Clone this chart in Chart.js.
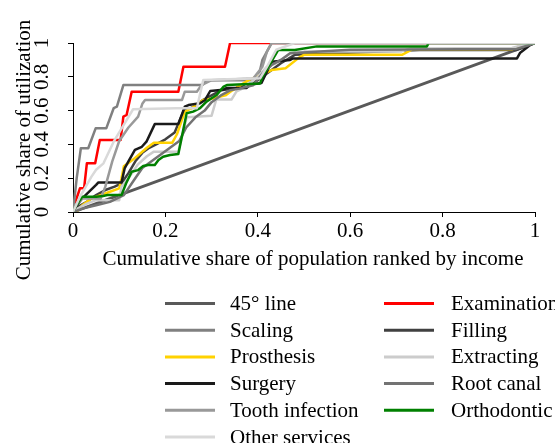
<!DOCTYPE html>
<html>
<head>
<meta charset="utf-8">
<script src="https://cdn.jsdelivr.net/npm/chart.js@4.4.1/dist/chart.umd.min.js"></script>
<style>
  html, body { margin: 0; padding: 0; background: #fff; }
  #wrap { width: 555px; height: 443px; }
</style>
</head>
<body>
<div id="wrap"><canvas id="chart" width="555" height="443"></canvas></div>
<script>
// ticks and titles
const xTicks = [0, 0.2, 0.4, 0.6, 0.8, 1];
const yTicks = [0, 0.2, 0.4, 0.6, 0.8, 1];
const xTitle = 'Cumulative share of population ranked by income';
const yTitle = 'Cumulative share of utilization';

// series, in legend order (row by row, two columns)
const labels = ['45° line', 'Examination', 'Scaling', 'Filling', 'Prosthesis', 'Extracting',
                'Surgery', 'Root canal', 'Tooth infection', 'Orthodontic', 'Other services'];
const colors = ['#595959', '#ff0000', '#808080', '#404040', '#ffd200', '#cccccc',
                '#1a1a1a', '#737373', '#999999', '#008000', '#d9d9d9'];

// [population share, utilization share]
const line45 = [[0,0],[1,1]];
const examination = [[0,0],[0.004,0.05],[0.015,0.14],[0.024,0.14],[0.03,0.288],[0.048,0.288],[0.058,0.426],
  [0.103,0.426],[0.109,0.564],[0.116,0.574],[0.127,0.712],[0.228,0.712],[0.239,0.86],[0.329,0.86],[0.34,1],[1,1]];
const scaling = [[0,0],[0.008,0.2],[0.017,0.377],[0.033,0.377],[0.049,0.495],[0.072,0.495],[0.088,0.614],
  [0.095,0.623],[0.109,0.751],[0.28,0.751],[0.29,0.78],[0.40,0.78],[0.41,0.9],[0.43,1],[1,1]];
const filling = [[0,0],[0.01,0.03],[0.03,0.06],[0.05,0.1],[0.07,0.13],[0.09,0.15],[0.105,0.17],[0.12,0.23],
  [0.135,0.3],[0.15,0.35],[0.165,0.38],[0.18,0.4],[0.2,0.43],[0.22,0.47],[0.24,0.6],[0.26,0.62],[0.28,0.66],
  [0.3,0.69],[0.32,0.72],[0.35,0.73],[0.37,0.75],[0.39,0.76],[0.41,0.8],[0.43,0.84],[0.45,0.88],[0.48,0.93],
  [0.75,0.959],[0.96,0.959],[0.985,0.985],[1,1]];
const prosthesis = [[0,0],[0.01,0.01],[0.02,0.04],[0.04,0.08],[0.06,0.1],[0.08,0.12],[0.1,0.14],[0.105,0.2],
  [0.11,0.27],[0.13,0.31],[0.16,0.38],[0.175,0.41],[0.215,0.41],[0.225,0.46],[0.242,0.594],[0.257,0.614],
  [0.271,0.643],[0.282,0.663],[0.3,0.67],[0.33,0.69],[0.345,0.72],[0.38,0.78],[0.43,0.84],[0.46,0.85],
  [0.49,0.915],[0.5,0.93],[0.712,0.93],[0.735,0.963],[0.95,0.963],[0.985,1],[1,1]];
const extracting = [[0,0],[0.01,0.02],[0.03,0.05],[0.05,0.07],[0.1,0.07],[0.105,0.15],[0.12,0.2],[0.14,0.28],
  [0.16,0.33],[0.175,0.357],[0.228,0.357],[0.246,0.56],[0.3,0.57],[0.31,0.665],[0.343,0.665],[0.354,0.714],
  [0.37,0.734],[0.4,0.8],[0.42,0.86],[0.44,0.88],[0.47,0.94],[0.5,0.949],[0.71,0.949],[0.73,0.968],
  [0.95,0.97],[0.99,1],[1,1]];
const surgery = [[0,0],[0.008,0.04],[0.02,0.08],[0.035,0.12],[0.05,0.16],[0.055,0.175],[0.105,0.175],
  [0.112,0.26],[0.12,0.3],[0.134,0.367],[0.149,0.386],[0.159,0.416],[0.177,0.52],[0.228,0.52],[0.242,0.623],
  [0.25,0.633],[0.275,0.643],[0.286,0.663],[0.297,0.716],[0.325,0.724],[0.333,0.734],[0.376,0.734],
  [0.383,0.753],[0.408,0.763],[0.43,0.889],[0.47,0.9],[0.476,0.909],[0.961,0.909],[0.968,0.943],
  [0.982,0.972],[0.99,0.99],[1,1]];
const rootCanal = [[0,0],[0.02,0.02],[0.05,0.04],[0.08,0.06],[0.11,0.1],[0.13,0.18],[0.15,0.26],[0.17,0.3],
  [0.19,0.34],[0.21,0.38],[0.23,0.42],[0.245,0.5],[0.265,0.56],[0.285,0.6],[0.3,0.65],[0.32,0.69],[0.34,0.72],
  [0.36,0.73],[0.39,0.75],[0.41,0.82],[0.43,0.87],[0.45,0.9],[0.47,0.94],[0.6,0.96],[0.96,0.965],[0.99,0.99],[1,1]];
const toothInfection = [[0,0],[0.005,0.04],[0.02,0.08],[0.06,0.08],[0.07,0.15],[0.085,0.3],[0.1,0.42],
  [0.12,0.5],[0.141,0.564],[0.15,0.64],[0.156,0.663],[0.236,0.663],[0.242,0.712],[0.268,0.712],[0.278,0.75],
  [0.3,0.78],[0.39,0.79],[0.41,0.86],[0.42,0.95],[0.43,1],[1,1]];
const orthodontic = [[0,0],[0.005,0.03],[0.012,0.06],[0.02,0.09],[0.05,0.09],[0.065,0.095],[0.075,0.1],
  [0.105,0.1],[0.115,0.17],[0.127,0.238],[0.141,0.248],[0.152,0.272],[0.163,0.278],[0.177,0.278],[0.185,0.308],
  [0.195,0.327],[0.21,0.337],[0.228,0.343],[0.246,0.584],[0.26,0.594],[0.275,0.614],[0.289,0.653],[0.3,0.673],
  [0.311,0.692],[0.326,0.742],[0.333,0.751],[0.405,0.761],[0.41,0.8],[0.444,0.958],[0.48,0.958],[0.528,0.98],
  [0.766,0.98],[0.77,1],[1,1]];
const otherServices = [[0,0],[0.015,0.09],[0.04,0.209],[0.05,0.25],[0.066,0.288],[0.088,0.416],[0.116,0.544],
  [0.13,0.608],[0.224,0.614],[0.268,0.614],[0.282,0.781],[0.405,0.791],[0.42,0.86],[0.44,0.96],[0.48,1],[1,1]];

const series = [line45, examination, scaling, filling, prosthesis, extracting,
                surgery, rootCanal, toothInfection, orthodontic, otherServices];

const FONT = 'Liberation Serif, Times New Roman, serif';

const datasets = series.map((pts, i) => ({
  label: labels[i],
  data: pts.map(p => ({ x: p[0], y: p[1] })),
  borderColor: colors[i],
  backgroundColor: colors[i],
  borderWidth: i === 0 ? 3 : 2.5,
  borderJoinStyle: 'round',
  borderCapStyle: 'round',
  pointRadius: 0,
  tension: 0,
  fill: false,
  order: series.length - i   // later series are painted on top
}));

// axis titles and the two-column legend, drawn by hand to sit where the original has them
const decorations = {
  id: 'decorations',
  afterDraw(chart) {
    const ctx = chart.ctx;
    ctx.save();
    ctx.fillStyle = '#000';
    ctx.font = '21px ' + FONT;
    ctx.textAlign = 'center';
    ctx.textBaseline = 'middle';
    ctx.fillText(chart.options.scales.x.title.text, 313, 259);
    ctx.save();
    ctx.translate(24, 150);
    ctx.rotate(-Math.PI / 2);
    ctx.fillText(chart.options.scales.y.title.text, 0, 0);
    ctx.restore();

    ctx.textAlign = 'left';
    chart.data.datasets.forEach((ds, i) => {
      const col = i % 2, row = Math.floor(i / 2);
      const y = 303.5 + row * 26.7;
      const x0 = col === 0 ? 165 : 384;
      ctx.strokeStyle = ds.borderColor;
      ctx.lineWidth = 3;
      ctx.beginPath();
      ctx.moveTo(x0, y);
      ctx.lineTo(x0 + 50, y);
      ctx.stroke();
      ctx.fillText(ds.label, col === 0 ? 230 : 451, y + 1);
    });
    ctx.restore();
  }
};

new Chart(document.getElementById('chart'), {
  type: 'line',
  data: { datasets },
  options: {
    responsive: false,
    animation: false,
    layout: { padding: { left: 0, right: 20, top: 43, bottom: 0 } },
    plugins: { legend: { display: false }, tooltip: { enabled: false } },
    scales: {
      x: {
        type: 'linear', min: 0, max: 1,
        afterBuildTicks: s => { s.ticks = xTicks.map(v => ({ value: v })); },
        afterFit: s => { s.height = 231; },
        grid: { drawOnChartArea: false, drawTicks: true, tickLength: 5, color: '#000' },
        border: { display: true, color: '#000', width: 1 },
        ticks: { color: '#000', font: { family: FONT, size: 21 }, padding: 2, maxRotation: 0, callback: v => String(v) },
        title: { display: false, text: xTitle }
      },
      y: {
        type: 'linear', min: 0, max: 1,
        afterBuildTicks: s => { s.ticks = yTicks.map(v => ({ value: v })); },
        afterFit: s => { s.width = 73; },
        grid: { drawOnChartArea: false, drawTicks: true, tickLength: 5, color: '#000' },
        border: { display: true, color: '#000', width: 1 },
        ticks: { color: '#000', font: { family: FONT, size: 21 }, padding: 12, minRotation: 90, maxRotation: 90,
                 crossAlign: 'center', callback: v => String(v) },
        title: { display: false, text: yTitle }
      }
    }
  },
  plugins: [decorations]
});
</script>
</body>
</html>
